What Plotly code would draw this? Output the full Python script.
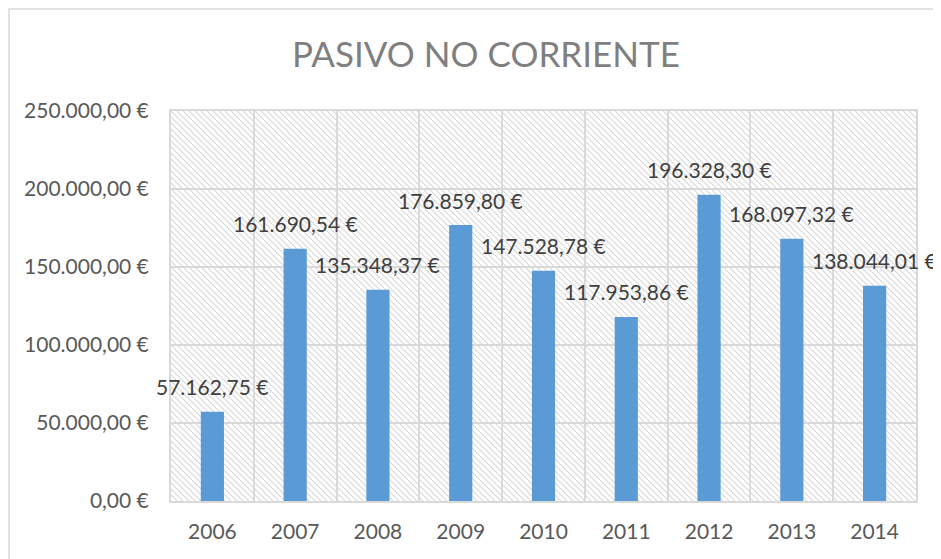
import base64
import plotly.graph_objects as go

# ---- data ----
years = ["2006", "2007", "2008", "2009", "2010", "2011", "2012", "2013", "2014"]
values = [57162.75, 161690.54, 135348.37, 176859.80, 147528.78, 117953.86, 196328.30, 168097.32, 138044.01]
y_tickvals = [0, 50000, 100000, 150000, 200000, 250000]
y_ticktext = ["0,00 €", "50.000,00 €", "100.000,00 €", "150.000,00 €", "200.000,00 €", "250.000,00 €"]
title_text = "PASIVO NO CORRIENTE"


def eur(v):
    s = f"{v:,.2f}"
    s = s.replace(",", "X").replace(".", ",").replace("X", ".")
    return s + " €"


# page has an 8px body margin, so the figure is sized/offset to compensate
OFF = 8
W, H = 941 - OFF, 559 - OFF
ML, MR, MT, MB = 171 - OFF, 25, 111 - OFF, 58
PW, PH = W - ML - MR, H - MT - MB

FONT = "Lato"
GRID = "#d9d9d9"

# hatched plot background (diagonal "\" lines)
svg = (
    f'<svg xmlns="http://www.w3.org/2000/svg" width="{PW}" height="{PH}" viewBox="0 0 {PW} {PH}">'
    '<defs><pattern id="p" patternUnits="userSpaceOnUse" width="6" height="6">'
    '<path d="M-1,-1 L7,7 M-1,5 L1,7 M5,-1 L7,1" stroke="#d9d9d9" stroke-width="1.2"/>'
    '</pattern></defs>'
    f'<rect width="{PW}" height="{PH}" fill="white"/>'
    f'<rect width="{PW}" height="{PH}" fill="url(#p)"/>'
    '</svg>'
)
svg_uri = "data:image/svg+xml;base64," + base64.b64encode(svg.encode()).decode()

fig = go.Figure()
fig.add_trace(go.Bar(
    x=years, y=values,
    marker=dict(color="#5B9BD5", line=dict(width=0)),
    width=0.28,
    hoverinfo="x+y",
))

annotations = []
for i, v in enumerate(values):
    annotations.append(dict(
        x=i, y=v, xref="x", yref="y",
        text=eur(v), showarrow=False,
        yshift=25, yanchor="middle", xanchor="center",
        font=dict(family=FONT, size=21, color="#404040"),
    ))

# outer chart border (starts at the figure's top-left corner)
bx0 = (1 - ML) / PW
bx1 = (W + 10 - ML) / PW
by1 = (MT + PH - 1) / PH
by0 = (MT + PH - (H + 10)) / PH

fig.update_layout(
    width=W, height=H,
    margin=dict(l=ML, r=MR, t=MT, b=MB, autoexpand=False),
    paper_bgcolor="white",
    plot_bgcolor="rgba(0,0,0,0)",
    showlegend=False,
    title=dict(
        text=title_text,
        font=dict(family=FONT, size=35, color="#7f7f7f"),
        x=(486 - OFF) / W, xanchor="center", xref="container",
        y=1 - (55 - OFF) / H, yanchor="middle", yref="container",
    ),
    annotations=annotations,
    images=[dict(
        source=svg_uri, xref="paper", yref="paper",
        x=0, y=1, sizex=1, sizey=1, xanchor="left", yanchor="top",
        sizing="stretch", layer="below",
    )],
    shapes=[dict(
        type="rect", xref="paper", yref="paper",
        x0=bx0, x1=bx1, y0=by0, y1=by1,
        line=dict(color=GRID, width=1.5), fillcolor="rgba(0,0,0,0)", layer="below",
    )],
    xaxis=dict(
        type="category",
        categoryorder="array", categoryarray=years,
        range=[-0.5, len(years) - 0.5], autorange=False,
        tickson="boundaries",
        showgrid=True, gridcolor=GRID, gridwidth=2,
        showline=True, linecolor=GRID, linewidth=2, mirror=True,
        ticks="", ticklabelstandoff=11, tickangle=0,
        tickfont=dict(family=FONT, size=21, color="#595959"),
        automargin=False,
        fixedrange=True,
    ),
    yaxis=dict(
        range=[0, 250000], autorange=False,
        tickvals=y_tickvals, ticktext=y_ticktext,
        showgrid=True, gridcolor=GRID, gridwidth=2,
        showline=True, linecolor=GRID, linewidth=2, mirror=True,
        zeroline=False,
        ticks="", ticklabelstandoff=16,
        tickfont=dict(family=FONT, size=21, color="#595959"),
        automargin=False,
        fixedrange=True,
    ),
)

fig.write_html("out.html")
